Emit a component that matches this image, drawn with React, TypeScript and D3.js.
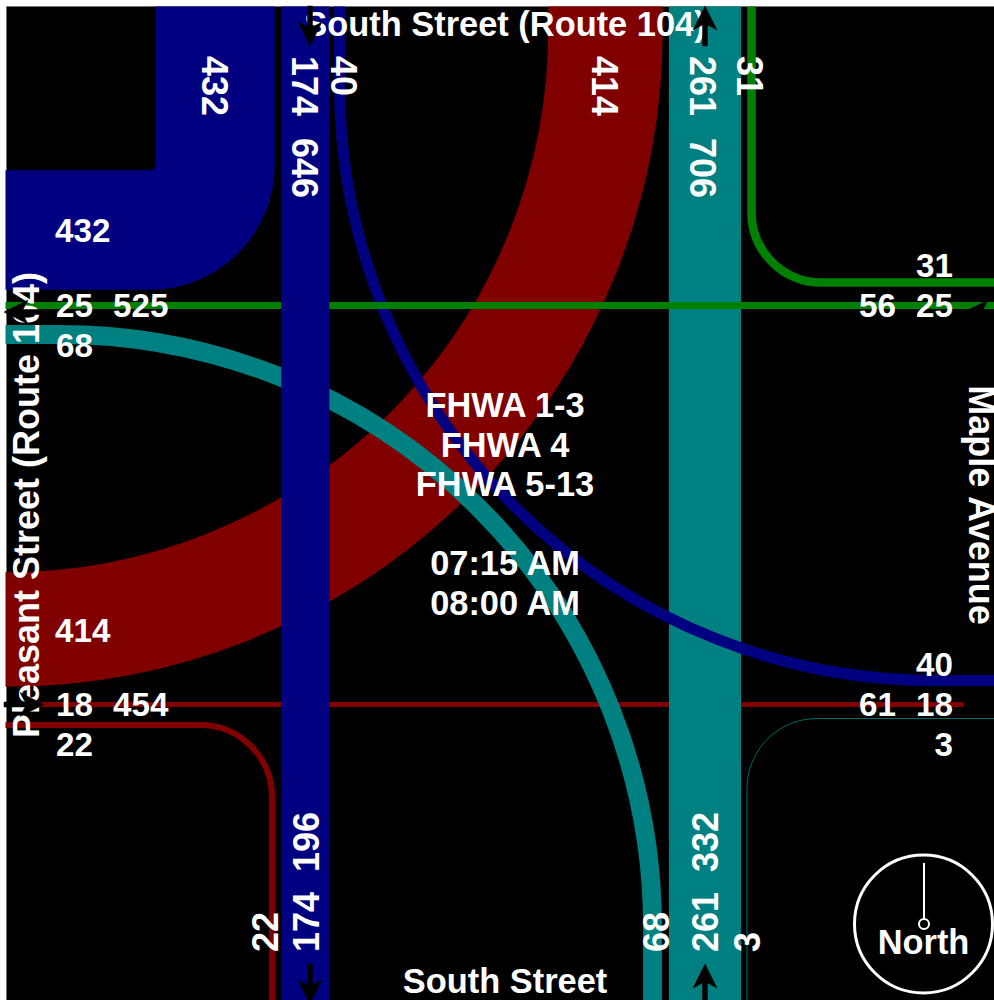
import React from "react";
import * as d3 from "d3";

// Peak-hour turning movement volumes
const northLeg = { right: 432, through: 174, left: 40, approach: 646 };
const northExit = { right: 414, through: 261, left: 31, departure: 706 };
const westLeg = { right: 68, through: 25, left: 432, approach: 525 };
const westExit = { right: 22, through: 18, left: 414, departure: 454 };
const eastLeg = { right: 31, through: 25, approach: 56 };
const eastExit = { right: 3, through: 18, left: 40, departure: 61 };
const southLeg = { through: 261, left: 68, right: 3, approach: 332 };
const southExit = { through: 174, right: 22, departure: 196 };

const infoLines = ["FHWA 1-3", "FHWA 4", "FHWA 5-13", "", "07:15 AM", "08:00 AM"];
const streetNorth = "South Street (Route 104)";
const streetSouth = "South Street";
const streetWest = "Pleasant Street (Route 104)";
const streetEast = "Maple Avenue";

const width = 994;
const height = 1000;
const NAVY = "#000080";
const TEAL = "#008080";
const MAROON = "#800000";
const GREEN = "#008000";
const FONT = "'Liberation Sans', Arial, sans-serif";

// One vehicle of volume maps to this much band width
const bandWidth = d3.scaleLinear().domain([0, 1000]).range([0, 276.5]);

type Seg = { from: [number, number]; corner: [number, number]; r: number; a0: number; a1: number; ccw: boolean; to: [number, number] };

function turnPath(s: Seg) {
  const p = d3.path();
  p.moveTo(s.from[0], s.from[1]);
  p.arc(s.corner[0], s.corner[1], s.r, s.a0, s.a1, s.ccw);
  p.lineTo(s.to[0], s.to[1]);
  return p.toString();
}

const PI = Math.PI;

function arrowPath(tailX: number, tailY: number, angle: number) {
  // arrow pointing along +x in local frame, tail at origin
  const c = Math.cos(angle);
  const s = Math.sin(angle);
  const t = (x: number, y: number): [number, number] => [tailX + x * c - y * s, tailY + x * s + y * c];
  const p = d3.path();
  const pts: [number, number][] = [[40, 0], [16, -12], [21, -2.5], [0, -2.5], [0, 2.5], [21, 2.5], [16, 12]];
  pts.forEach((q, i) => {
    const [x, y] = t(q[0], q[1]);
    if (i === 0) p.moveTo(x, y);
    else p.lineTo(x, y);
  });
  p.closePath();
  return p.toString();
}

function Lbl({ x, y, rot = 0, anchor = "start", size, children }: { x: number; y: number; rot?: number; anchor?: string; size?: number; children: React.ReactNode }) {
  return (
    <text
      transform={`translate(${x},${y}) rotate(${rot})`}
      textAnchor={anchor}
      fontFamily={FONT}
      fontWeight="bold"
      fontSize={size ?? (rot !== 0 ? 36 : 33.2)}
      fill="#fff"
    >
      {children}
    </text>
  );
}

export default function App() {
  const bands: { d: string; color: string; vol: number }[] = [
    { color: MAROON, vol: northExit.right, d: turnPath({ from: [605.5, 6.5], corner: [6, 30], r: 599.5, a0: 0, a1: PI / 2, ccw: false, to: [5.5, 629.5] }) },
    { color: MAROON, vol: westExit.through, d: `M5.5,704.5H${width}` },
    { color: MAROON, vol: westExit.right, d: turnPath({ from: [5.5, 725], corner: [200, 797], r: 72, a0: -PI / 2, a1: 0, ccw: false, to: [272, height] }) },
    { color: TEAL, vol: southLeg.through, d: `M705,6.5V${height}` },
    { color: TEAL, vol: westLeg.right, d: turnPath({ from: [5.5, 334.5], corner: [60, 927], r: 592.5, a0: -PI / 2, a1: 0, ccw: false, to: [652.5, height] }) },
    { color: TEAL, vol: eastExit.right, d: turnPath({ from: [width, 718.5], corner: [817, 788.5], r: 70, a0: -PI / 2, a1: -PI, ccw: true, to: [747, height] }) },
    { color: NAVY, vol: northLeg.left, d: turnPath({ from: [339.5, 6.5], corner: [935, 85], r: 595.5, a0: PI, a1: PI / 2, ccw: true, to: [width, 680.5] }) },
    { color: GREEN, vol: westLeg.through, d: `M5.5,305.5H${width}` },
    { color: GREEN, vol: northExit.left, d: turnPath({ from: [751.5, 6.5], corner: [821.5, 212.5], r: 70, a0: PI, a1: PI / 2, ccw: true, to: [width, 282.5] }) },
    { color: NAVY, vol: northLeg.through, d: `M305.3,6.5V${height}` },
    { color: NAVY, vol: northLeg.right, d: turnPath({ from: [215, 6.5], corner: [150, 165], r: 65, a0: 0, a1: PI / 2, ccw: false, to: [5.5, 230] }) },
  ];

  const arrows: [number, number, number][] = [
    [310, 6, PI / 2],
    [310, 964, PI / 2],
    [705, 46, -PI / 2],
    [705, 1004, -PI / 2],
    [4, 704.5, 0],
    [964, 704.5, 0],
    [44, 312, PI],
    [1004, 312, PI],
  ];

  return (
    <svg
      width={width}
      height={height}
      viewBox={`0 0 ${width} ${height}`}
      style={{ position: "absolute", left: 0, top: 0, display: "block", background: "#fff" }}
    >
      <rect x={6} y={6} width={width - 6} height={height - 6} fill="#777" />
      <rect x={7} y={7} width={width - 7} height={height - 7} fill="#000" />

      {bands.map((b, i) => (
        <path key={i} d={b.d} fill="none" stroke={b.color} strokeWidth={bandWidth(b.vol)} />
      ))}

      {/* street names sit under the direction arrows */}
      <Lbl x={505} y={36} anchor="middle" size={34.4}>{streetNorth}</Lbl>
      <Lbl x={505} y={993} anchor="middle" size={34.4}>{streetSouth}</Lbl>
      <Lbl x={39} y={505} rot={-90} anchor="middle">{streetWest}</Lbl>
      <Lbl x={969} y={505} rot={90} anchor="middle">{streetEast}</Lbl>

      {arrows.map((a, i) => (
        <path key={i} d={arrowPath(a[0], a[1], a[2])} fill="#000" stroke="#000" strokeWidth={0.5} strokeLinejoin="round" />
      ))}

      {/* north leg */}
      <Lbl x={202} y={56} rot={90}>{northLeg.right}</Lbl>
      <Lbl x={292} y={56} rot={90}>{northLeg.through}</Lbl>
      <Lbl x={292} y={138} rot={90}>{northLeg.approach}</Lbl>
      <Lbl x={331} y={56} rot={90}>{northLeg.left}</Lbl>
      <Lbl x={592} y={56} rot={90}>{northExit.right}</Lbl>
      <Lbl x={690} y={56} rot={90}>{northExit.through}</Lbl>
      <Lbl x={690} y={138} rot={90}>{northExit.departure}</Lbl>
      <Lbl x={737} y={56} rot={90}>{northExit.left}</Lbl>

      {/* south leg */}
      <Lbl x={278} y={952} rot={-90}>{southExit.right}</Lbl>
      <Lbl x={319} y={952} rot={-90}>{southExit.through}</Lbl>
      <Lbl x={319} y={872} rot={-90}>{southExit.departure}</Lbl>
      <Lbl x={669} y={952} rot={-90}>{southLeg.left}</Lbl>
      <Lbl x={718} y={952} rot={-90}>{southLeg.through}</Lbl>
      <Lbl x={718} y={872} rot={-90}>{southLeg.approach}</Lbl>
      <Lbl x={760} y={952} rot={-90}>{southLeg.right}</Lbl>

      {/* west leg */}
      <Lbl x={55} y={242}>{westLeg.left}</Lbl>
      <Lbl x={56} y={317}>{westLeg.through}</Lbl>
      <Lbl x={113} y={317}>{westLeg.approach}</Lbl>
      <Lbl x={56} y={357}>{westLeg.right}</Lbl>
      <Lbl x={55} y={642}>{westExit.left}</Lbl>
      <Lbl x={56} y={716}>{westExit.through}</Lbl>
      <Lbl x={113} y={716}>{westExit.departure}</Lbl>
      <Lbl x={56} y={756}>{westExit.right}</Lbl>

      {/* east leg */}
      <Lbl x={953} y={277} anchor="end">{eastLeg.right}</Lbl>
      <Lbl x={953} y={317} anchor="end">{eastLeg.through}</Lbl>
      <Lbl x={896} y={317} anchor="end">{eastLeg.approach}</Lbl>
      <Lbl x={953} y={676} anchor="end">{eastExit.left}</Lbl>
      <Lbl x={953} y={716} anchor="end">{eastExit.through}</Lbl>
      <Lbl x={896} y={716} anchor="end">{eastExit.departure}</Lbl>
      <Lbl x={953} y={756} anchor="end">{eastExit.right}</Lbl>

      {/* centre block */}
      {infoLines.map((t, i) => (
        <Lbl key={i} x={505} y={417 + i * 39.6} anchor="middle" size={34.4}>{t}</Lbl>
      ))}

      {/* north compass */}
      <circle cx={923.5} cy={924} r={69} fill="none" stroke="#fff" strokeWidth={3} />
      <line x1={924} y1={863} x2={924} y2={919} stroke="#fff" strokeWidth={2} />
      <circle cx={924} cy={924} r={5} fill="none" stroke="#fff" strokeWidth={2} />
      <Lbl x={923.5} y={954} anchor="middle" size={34.4}>North</Lbl>
    </svg>
  );
}
